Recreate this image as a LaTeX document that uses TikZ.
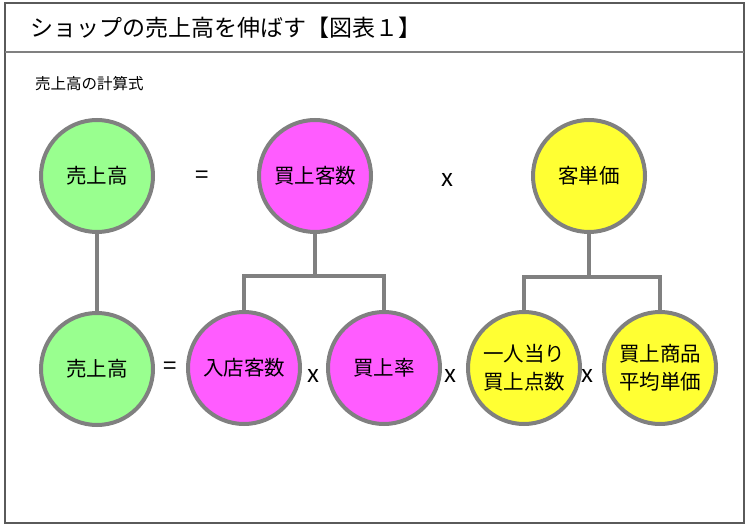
\documentclass[tikz,border=0pt]{standalone}
\usepackage{fontspec}
\setmainfont{Noto Sans CJK JP}
\usepackage{tikz}
\usetikzlibrary{positioning}
\definecolor{ringgray}{RGB}{128,128,128}
\definecolor{framegray}{RGB}{90,90,90}
\definecolor{salesgreen}{RGB}{153,255,143}
\definecolor{custpink}{RGB}{255,92,255}
\definecolor{unityellow}{RGB}{255,255,51}
\tikzset{
  kpi/.style={circle, draw=ringgray, line width=4pt, minimum size=112pt, inner sep=0pt,
              font=\fontsize{20.5}{28}\selectfont, align=center},
  sales/.style={fill=salesgreen},
  cust/.style={fill=custpink},
  unit/.style={fill=unityellow},
  op/.style={inner sep=0pt, font=\fontsize{24}{24}\selectfont},
  branch/.style={draw=ringgray, line width=4pt},
  frame/.style={draw=framegray, line width=1.4pt},
}

\begin{document}
\begin{tikzpicture}[x=1pt, y=-1pt]
  \useasboundingbox (0,0) rectangle (751,526);
  \draw[frame] (5,3) rectangle (744,523);
  \draw[frame, draw=ringgray] (5,52) -- (744,52);

  \node[anchor=west, inner sep=0pt, font=\fontsize{23}{23}\selectfont] (title) at (30,28) {ショップの売上高を伸ばす【図表１】};
  \node[anchor=west, inner sep=0pt, font=\fontsize{15.5}{15.5}\selectfont] (subtitle) at (35,84) {売上高の計算式};

  % top row
  \node[kpi, sales] (sales1) at (97,176) {売上高};
  \node[kpi, cust] (buyers) at (315,176) {買上客数};
  \node[kpi, unit] (perbuyer) at (589,176) {客単価};
  \node[op] (eq1) at (202,177) {=};
  \node[op] (times1) at (447,180) {x};

  % bottom row
  \node[kpi, sales] (sales2) at (97,369) {売上高};
  \node[kpi, cust] (visitors) at (244,368) {入店客数};
  \node[kpi, cust] (rate) at (384,368) {買上率};
  \node[kpi, unit] (items) at (524,368) {一人当り\\買上点数};
  \node[kpi, unit] (avgprice) at (660,368) {買上商品\\平均単価};
  \node[op] (eq2) at (170,368) {=};
  \node[op] (times2) at (313,376) {x};
  \node[op] (times3) at (450,376) {x};
  \node[op] (times4) at (587,376) {x};

  \coordinate (custjoint) at (315,276);
  \coordinate (unitjoint) at (589,277);

  \draw[branch] (sales1.south) -- (sales2.north);
  \draw[branch] (buyers.south) -- (custjoint);
  \draw[branch] (visitors.north) |- (custjoint) -| (rate.north);
  \draw[branch] (perbuyer.south) -- (unitjoint);
  \draw[branch] (items.north) |- (unitjoint) -| (avgprice.north);
\end{tikzpicture}
\end{document}
